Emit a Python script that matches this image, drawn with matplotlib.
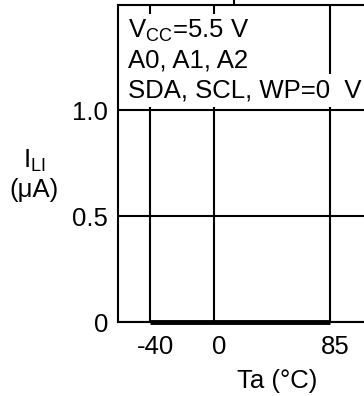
import numpy as np
import matplotlib
matplotlib.use("Agg")
import matplotlib.pyplot as plt
import matplotlib.transforms as mtransforms

plt.rcParams['font.family'] = ['Liberation Sans', 'DejaVu Sans']
plt.rcParams['mathtext.fontset'] = 'custom'
plt.rcParams['mathtext.rm'] = 'Liberation Sans'

# data
ta = [-40, 85]
ili = [0.0, 0.0]
xticks = [-40, 0, 85]
yticks = [0, 0.5, 1.0]
ytick_labels = ['0', '0.5', '1.0']
notes = [r'$\mathrm{V_{CC}}$=5.5 V', 'A0, A1, A2', 'SDA, SCL, WP=0  V']

# uneven x axis (datasheet style): negative side is stretched
def fwd(x):
    x = np.asarray(x, dtype=float)
    return np.where(x < 0, x * 1.6, x * 116 / 85)

def inv(p):
    p = np.asarray(p, dtype=float)
    return np.where(p < 0, p / 1.6, p * 85 / 116)

FS = 18.5
W, H = 364, 396
fig = plt.figure(figsize=(W / 100, H / 100), dpi=100)
ax = fig.add_axes([118 / W, 74 / H, 253 / W, 317.5 / H])
ax.set_xscale('function', functions=(fwd, inv))
ax.set_xlim(-60, 115)
ax.set_ylim(0, 1.5)

ax.plot(ta, ili, color='black', lw=3.5, solid_capstyle='butt', clip_on=False, zorder=4)

ax.set_xticks(xticks)
ax.set_xticklabels([str(t) for t in xticks])
ax.set_yticks(yticks)
ax.set_yticklabels(ytick_labels)
ax.tick_params(axis='both', length=0, labelsize=FS)
ax.tick_params(axis='x', pad=9)
ax.tick_params(axis='y', pad=7)
off = mtransforms.ScaledTranslation(5 / 100, 0, fig.dpi_scale_trans)
for lbl in ax.get_xticklabels():
    lbl.set_transform(lbl.get_transform() + off)

ax.grid(True, color='black', lw=1.5)
ax.set_axisbelow(True)
for s in ['left', 'bottom', 'top']:
    ax.spines[s].set_linewidth(1.5)
ax.spines['right'].set_visible(False)

sec = ax.secondary_xaxis('top', functions=(lambda v: v, lambda v: v))
sec.set_xticks([20.5])
sec.set_xticklabels([''])
sec.tick_params(direction='out', length=3.3, width=1.5)
sec.spines['top'].set_visible(False)

for i, t in enumerate(notes):
    ax.text(0.04, 0.957 - i * 0.095, t, transform=ax.transAxes, fontsize=FS,
            ha='left', va='top', zorder=5,
            bbox=dict(facecolor='white', edgecolor='none', pad=3))

ax.set_xlabel('Ta (°C)', fontsize=FS)
ax.xaxis.set_label_coords(0.628, -0.148)
ax.set_ylabel('$\\mathrm{I_{LI}}$\n(μA)', fontsize=FS, rotation=0,
              ha='center', va='center', multialignment='center')
ax.yaxis.set_label_coords(-0.332, 0.463)

fig.savefig('out.png', dpi=100)
